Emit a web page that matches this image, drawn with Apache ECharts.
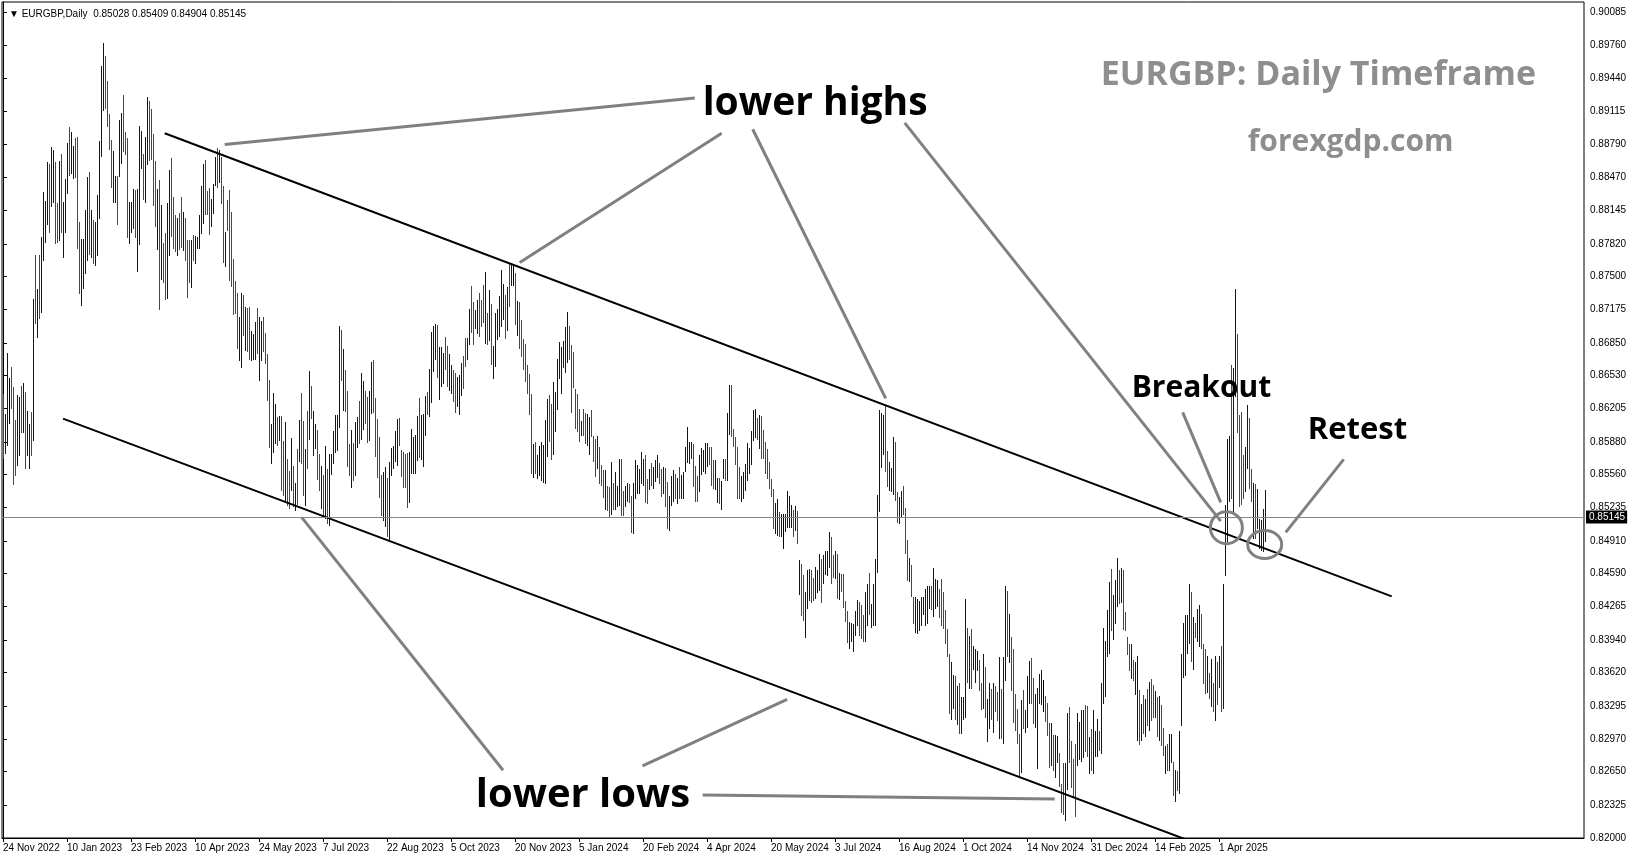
<!DOCTYPE html>
<html>
<head>
<meta charset="utf-8">
<script src="https://cdn.jsdelivr.net/npm/echarts@6/dist/echarts.min.js"></script>
<style>
html,body{margin:0;padding:0;background:#ffffff;}
#chart{width:1631px;height:861px;}
</style>
</head>
<body>
<div id="chart"></div>
<script>
// ---------- DATA ----------
const headerText = '\u25BC EURGBP,Daily  0.85028 0.85409 0.84904 0.85145';
const lastPrice = 0.85145;

const xLabels = ['24 Nov 2022','10 Jan 2023','23 Feb 2023','10 Apr 2023','24 May 2023','7 Jul 2023',
  '22 Aug 2023','5 Oct 2023','20 Nov 2023','5 Jan 2024','20 Feb 2024','4 Apr 2024','20 May 2024',
  '3 Jul 2024','16 Aug 2024','1 Oct 2024','14 Nov 2024','31 Dec 2024','14 Feb 2025','1 Apr 2025'];

const priceTicks = [0.82000,0.82325,0.82650,0.82970,0.83295,0.83620,0.83940,0.84265,0.84590,0.84910,
  0.85235,0.85560,0.85880,0.86205,0.86530,0.86850,0.87175,0.87500,0.87820,0.88145,0.88470,0.88790,
  0.89115,0.89440,0.89760,0.90085];

// daily bar highs (one per trading day, oldest first)
const highs = [
.8635,.8615,.8675,.8651,.8661,.8642,.8609,.8634,.8632,.8643,
.8646,.8637,.8618,.8605,.8617,.8728,.8771,.8738,.8771,.8789,
.8833,.8824,.8862,.8860,.8877,.8874,.8862,.8822,.8863,.8870,
.8823,.8845,.8881,.8896,.8891,.8878,.8886,.8887,.8803,.8787,
.8787,.8815,.8847,.8852,.8815,.8805,.8803,.8830,.8883,.8956,
.8979,.8966,.8941,.8909,.8884,.8873,.8848,.8848,.8903,.8910,
.8928,.8891,.8886,.8823,.8823,.8836,.8835,.8836,.8897,.8892,
.8870,.8887,.8926,.8922,.8914,.8890,.8863,.8836,.8844,.8820,
.8783,.8793,.8822,.8854,.8866,.8828,.8810,.8807,.8812,.8828,
.8813,.8807,.8786,.8786,.8786,.8791,.8790,.8789,.8810,.8839,
.8860,.8864,.8834,.8837,.8826,.8841,.8867,.8876,.8874,.8867,
.8839,.8794,.8825,.8835,.8813,.8767,.8746,.8734,.8710,.8734,
.8732,.8720,.8719,.8720,.8697,.8694,.8705,.8719,.8710,.8706,
.8710,.8695,.8674,.8649,.8605,.8636,.8625,.8612,.8613,.8613,
.8589,.8607,.8571,.8559,.8592,.8564,.8548,.8581,.8609,.8636,
.8608,.8581,.8618,.8657,.8643,.8618,.8605,.8600,.8576,.8564,
.8556,.8584,.8561,.8576,.8576,.8599,.8614,.8614,.8701,.8698,
.8679,.8658,.8638,.8586,.8600,.8587,.8607,.8612,.8628,.8655,
.8648,.8638,.8632,.8638,.8666,.8668,.8631,.8610,.8593,.8556,
.8558,.8563,.8553,.8568,.8582,.8584,
.8599,.8610,.8611,.8580,.8578,.8576,.8577,.8578,.8601,.8593,
.8595,.8613,.8631,.8614,.8615,.8633,.8637,.8659,.8696,.8701,
.8703,.8702,.8681,.8681,.8675,.8691,.8682,.8674,.8663,.8658,
.8655,.8652,.8653,.8665,.8672,.8690,.8690,.8718,.8741,.8725,
.8717,.8727,.8734,.8727,.8742,.8754,.8714,.8737,.8723,.8682,
.8714,.8718,.8731,.8756,.8743,.8732,.8740,.8762,.8763,.8762,
.8753,.8726,.8725,.8707,.8689,.8684,.8663,.8654,.8635,.8586,
.8588,.8575,.8584,.8588,.8585,.8609,.8630,.8634,.8625,.8647,
.8637,.8669,.8686,.8681,.8687,.8700,.8715,.8701,.8683,.8676,
.8640,.8635,.8620,.8608,.8620,.8616,.8615,.8612,.8619,.8594,
.8591,.8594,.8583,.8565,.8560,.8560,.8545,.8544,.8568,
.8548,.8558,.8545,.8571,.8571,.8540,.8545,.8548,.8547,.8535,
.8548,.8570,.8565,.8561,.8578,.8571,.8575,.8552,.8561,.8567,
.8563,.8570,.8575,.8567,.8561,.8563,.8562,.8549,.8535,.8555,
.8560,.8557,.8553,.8563,.8556,.8558,.8583,.8603,.8588,.8588,
.8586,.8564,.8555,.8575,.8582,.8580,.8587,.8587,.8583,.8583,
.8570,.8570,.8553,.8553,.8550,.8571,.8571,.8616,.8644,.8644,
.8601,.8593,.8583,.8563,.8555,.8558,.8566,.8587,.8582,.8599,
.8619,.8620,.8611,.8614,.8613,.8600,.8588,.8581,.8568,.8552,
.8542,.8528,.8532,.8519,.8517,.8517,.8517,.8540,.8535,.8526,
.8521,.8525,.8520,.8472,.8468,.8458,.8441,.8462,.8463,.8462,
.8455,.8465,.8462,.8478,.8473,.8477,.8481,
.8481,.8500,.8495,.8477,.8481,.8478,.8460,.8459,.8459,.8432,
.8422,.8412,.8411,.8410,.8422,.8433,.8431,.8428,.8418,.8441,
.8449,.8460,.8429,.8449,.8473,.8536,.8619,.8616,.8614,.8624,
.8579,.8568,.8562,.8593,.8588,.8539,.8534,.8540,.8545,.8523,
.8492,.8474,.8467,.8436,.8436,.8434,.8432,.8436,.8436,.8444,
.8447,.8447,.8447,.8464,.8454,.8453,.8444,.8454,.8441,.8423,
.8405,.8380,.8372,.8360,.8359,.8349,.8352,.8338,.8338,.8434,
.8406,.8398,.8405,.8388,.8385,.8383,.8374,.8352,.8380,.8367,
.8336,.8352,.8346,.8352,.8349,.8343,.8377,.8346,.8377,.8447,
.8442,
.8419,.8397,.8385,.8341,.8326,.8302,.8335,.8345,.8325,.8359,
.8373,.8376,.8357,.8341,.8347,.8361,.8365,.8355,.8339,.8332,
.8313,.8313,.8301,.8301,.8300,.8283,.8253,.8273,.8273,.8322,
.8328,.8295,.8277,.8292,.8322,.8314,.8325,.8325,.8330,.8329,
.8299,.8307,.8325,.8305,.8317,.8305,.8352,.8406,.8393,.8423,
.8451,.8463,.8438,.8453,.8474,.8462,.8464,.8462,.8421,.8397,
.8390,.8390,.8374,.8372,.8378,.8345,.8331,.8340,.8336,.8346,
.8353,.8356,.8350,.8344,.8338,.8339,.8330,.8308,.8290,.8292,
.8302,.8302,.8274,.8267,.8266,.8305,.8380,.8411,.8418,.8418,
.8449,
.8441,.8416,.8411,.8424,.8428,.8419,.8390,.8385,.8378,.8362,
.8375,.8352,.8378,.8372,.8378,.8388,.8449,.8526,.8591,.8594,
.8663,.8660,.8738,.8694,.8614,.8617,.8575,.8583,.8624,.8611,
.8561,.8548,.8547,.8542,.8512,.8511,.8522,.8541
];

// daily bar lows
const lows = [
.8571,.8576,.8584,.8605,.8620,.8546,.8555,.8564,.8574,.8597,
.8597,.8561,.8574,.8561,.8574,.8589,.8703,.8690,.8708,.8714,
.8765,.8783,.8800,.8793,.8818,.8822,.8782,.8783,.8785,.8793,
.8768,.8793,.8831,.8848,.8850,.8845,.8846,.8777,.8733,.8721,
.8738,.8752,.8765,.8771,.8768,.8762,.8760,.8770,.8806,.8867,
.8912,.8914,.8896,.8874,.8837,.8822,.8822,.8800,.8847,.8860,
.8872,.8869,.8788,.8782,.8793,.8796,.8788,.8754,.8781,.8855,
.8825,.8822,.8859,.8863,.8864,.8819,.8798,.8776,.8717,.8747,
.8744,.8727,.8728,.8770,.8789,.8777,.8774,.8770,.8776,.8778,
.8775,.8765,.8729,.8744,.8739,.8765,.8762,.8777,.8777,.8792,
.8801,.8810,.8810,.8791,.8798,.8811,.8839,.8837,.8842,.8821,
.8763,.8759,.8795,.8746,.8740,.8712,.8713,.8679,.8667,.8660,
.8692,.8677,.8676,.8668,.8667,.8668,.8668,.8674,.8648,.8667,
.8676,.8664,.8628,.8582,.8566,.8577,.8586,.8584,.8589,.8540,
.8535,.8528,.8525,.8522,.8540,.8524,.8520,.8526,.8568,.8566,
.8535,.8525,.8561,.8590,.8610,.8574,.8581,.8551,.8540,.8522,
.8515,.8512,.8508,.8506,.8556,.8566,.8577,.8579,.8602,.8648,
.8618,.8617,.8563,.8555,.8543,.8550,.8555,.8582,.8586,.8590,
.8600,.8605,.8587,.8589,.8615,.8616,.8573,.8553,.8533,.8515,
.8510,.8505,.8495,.8490,.8555,.8561,
.8568,.8564,.8584,.8554,.8543,.8543,.8523,.8528,.8557,.8557,
.8557,.8569,.8572,.8570,.8563,.8594,.8614,.8612,.8626,.8656,
.8668,.8651,.8629,.8642,.8645,.8658,.8642,.8638,.8635,.8627,
.8616,.8622,.8614,.8633,.8640,.8661,.8668,.8683,.8695,.8683,
.8699,.8694,.8691,.8700,.8704,.8684,.8683,.8687,.8663,.8650,
.8661,.8688,.8691,.8700,.8707,.8689,.8697,.8720,.8741,.8741,
.8702,.8692,.8679,.8671,.8658,.8647,.8635,.8614,.8557,.8553,
.8557,.8552,.8555,.8550,.8548,.8547,.8573,.8588,.8570,.8575,
.8598,.8619,.8650,.8635,.8660,.8655,.8665,.8668,.8616,.8641,
.8601,.8598,.8588,.8594,.8594,.8586,.8584,.8575,.8593,.8568,
.8554,.8561,.8547,.8545,.8533,.8521,.8520,.8513,.8516,
.8521,.8521,.8524,.8525,.8515,.8515,.8524,.8529,.8528,.8499,
.8498,.8532,.8537,.8537,.8547,.8545,.8528,.8527,.8541,.8545,
.8542,.8549,.8553,.8547,.8534,.8537,.8524,.8503,.8501,.8525,
.8529,.8532,.8527,.8532,.8532,.8532,.8558,.8567,.8566,.8571,
.8544,.8529,.8529,.8539,.8556,.8558,.8557,.8563,.8565,.8545,
.8542,.8541,.8528,.8527,.8521,.8552,.8550,.8550,.8595,.8593,
.8583,.8565,.8532,.8532,.8529,.8532,.8540,.8550,.8557,.8565,
.8589,.8592,.8590,.8581,.8571,.8571,.8557,.8552,.8542,.8534,
.8503,.8498,.8496,.8495,.8495,.8483,.8500,.8504,.8504,.8504,
.8495,.8501,.8488,.8438,.8417,.8413,.8396,.8424,.8432,.8430,
.8432,.8434,.8440,.8442,.8430,.8449,.8458,
.8457,.8464,.8449,.8455,.8454,.8434,.8433,.8441,.8425,.8412,
.8391,.8385,.8392,.8382,.8398,.8408,.8398,.8395,.8392,.8392,
.8408,.8418,.8406,.8408,.8408,.8460,.8519,.8562,.8575,.8558,
.8544,.8540,.8539,.8536,.8530,.8509,.8508,.8513,.8516,.8478,
.8452,.8451,.8436,.8410,.8401,.8400,.8403,.8408,.8418,.8408,
.8410,.8424,.8423,.8416,.8424,.8426,.8415,.8408,.8405,.8390,
.8377,.8321,.8316,.8326,.8316,.8311,.8302,.8302,.8316,.8318,
.8352,.8346,.8346,.8365,.8352,.8364,.8344,.8325,.8326,.8318,
.8294,.8307,.8316,.8303,.8323,.8315,.8297,.8297,.8292,.8354,
.8377,
.8371,.8344,.8313,.8305,.8292,.8259,.8264,.8307,.8303,.8308,
.8331,.8331,.8312,.8308,.8268,.8331,.8330,.8323,.8314,.8300,
.8269,.8271,.8266,.8259,.8273,.8250,.8224,.8223,.8217,.8247,
.8273,.8249,.8240,.8221,.8271,.8276,.8274,.8278,.8284,.8279,
.8263,.8266,.8263,.8279,.8279,.8285,.8282,.8331,.8338,.8377,
.8380,.8403,.8394,.8410,.8426,.8429,.8430,.8404,.8403,.8379,
.8364,.8356,.8354,.8340,.8295,.8291,.8295,.8302,.8299,.8310,
.8305,.8315,.8318,.8318,.8299,.8295,.8290,.8280,.8263,.8266,
.8266,.8273,.8241,.8235,.8246,.8243,.8310,.8357,.8359,.8380,
.8390,
.8372,.8365,.8396,.8392,.8387,.8385,.8351,.8341,.8342,.8336,
.8328,.8323,.8315,.8330,.8347,.8323,.8326,.8457,.8488,.8529,
.8532,.8516,.8632,.8597,.8524,.8526,.8532,.8539,.8561,.8542,
.8529,.8493,.8493,.8503,.8483,.8481,.8480,.8490
];

// bar direction: u = close above open (blue), d = close below open (red), n = unchanged (black)
const dirs =
 "duunddduud"+"uduudududu"+"uuuduuddud"+"uuuduudddu"+"uuududuuuu"+"udddduuduu"+"ddduuuduuu"+
 "duuddddudu"+"dduudddudd"+"uddduduuuu"+"uddduuudud"+"dudddddduu"+"dudduuuduu"+"dddduuudud"+
 "duddududud"+"dududuuddu"+"duduuuuuud"+"uddduduudu"+"udduuddddd"+"uuduuu"+
 "uuddddduuu"+"uuduuuduuu"+"uduuudduud"+"duuudduudd"+"uudddududu"+"uuuuududun"+"dudddddddu"+
 "dunuuuuddu"+"uuuuuuuddd"+"dddudduudd"+"duddduddu"+
 "duuudduudd"+"uuuuuuddud"+"uuuddudduu"+"ududuuuuuu"+"ddduuuuudd"+"duuduuduud"+"dddduuuuuu"+
 "uududddddd"+"duudunuuuu"+"dududduuud"+"duuuduu"+
 "uuddududdd"+"duuuuudddu"+"uduuuuuuud"+"duuudduudd"+"dudduuuuuu"+"uuduuudddd"+"dduududuuu"+
 "duduuuddud"+"uududduduu"+"d"+
 "uddddduduu"+"udduuuundd"+"duduuddduu"+"dddduuuudd"+"uduuuduuuu"+"uduuududdd"+"duduududud"+
 "uddududdud"+"uududuuuuu"+"u"+
 "duduudddud"+"udududuuuu"+"duudddduud"+"duduuuuu";

// trend channel (bar index, price)
const upperChannel = [[80.85, 0.88903], [694.35, 0.84366]];
const lowerChannel = [[30, 0.86107], [600, 0.81923]];

// grey pointer lines (bar index, price)
const pointerLines = [
  [[345.85, 0.89248], [110.85, 0.88792]],
  [[359.35, 0.88903], [258.35, 0.87636]],
  [[374.85, 0.88942], [441.35, 0.86306]],
  [[450.85, 0.89004], [608.85, 0.85104]],
  [[589.85, 0.86169], [608.85, 0.85287]],
  [[670.35, 0.85708], [641.35, 0.84993]],
  [[250.05, 0.82664], [149.35, 0.85140]],
  [[319.75, 0.82706], [392.05, 0.83357]],
  [[349.85, 0.82420], [525.85, 0.82381]]
];

// circle centres (bar index, price)
const breakoutCircle = [611.7, 0.85039];
const retestCircle = [630.85, 0.84875];

// annotation texts and their left/middle anchors (bar index, price)
const notes = [
  {text: 'lower highs', at: [349.85, 0.89190]},
  {text: 'lower lows', at: [236.35, 0.82415]},
  {text: 'Breakout', at: [564.35, 0.86400]},
  {text: 'Retest', at: [652.35, 0.85990]},
  {text: 'EURGBP: Daily Timeframe', at: [548.85, 0.89472]},
  {text: 'forexgdp.com', at: [622.35, 0.88815]}
];

// ---------- CHART ----------
const SLOT_COUNT = 791;
const LABEL_STEP = 32;
const UP = '#0000cc', DOWN = '#ee0000', DOJI = '#000000';
const AXIS_FONT = '"Liberation Sans", Arial, sans-serif';
const NOTE_FONT = '"Open Sans", "Noto Sans", sans-serif';
const noteStyle = {
  'lower highs': {size: 39, color: '#000000'},
  'lower lows': {size: 40, color: '#000000'},
  'Breakout': {size: 30, color: '#000000'},
  'Retest': {size: 31, color: '#000000'},
  'EURGBP: Daily Timeframe': {size: 34, color: '#8e8e8e'},
  'forexgdp.com': {size: 30, color: '#8e8e8e'}
};

const slots = Array.from({length: SLOT_COUNT}, (_, i) => String(i));
const n = Math.min(highs.length, lows.length, dirs.length);
const barData = [];
for (let i = 0; i < n; i++) barData.push([i, lows[i], highs[i]]);

function showDate(index) {
  return index % LABEL_STEP === 0 && index / LABEL_STEP < xLabels.length;
}

function renderBar(params, api) {
  const i = api.value(0);
  const top = api.coord([i, api.value(2)]);
  const bot = api.coord([i, api.value(1)]);
  const d = dirs[params.dataIndex];
  const color = d === 'u' ? UP : (d === 'd' ? DOWN : DOJI);
  const x = Math.round(top[0]);
  const y1 = Math.round(top[1]);
  const y2 = Math.round(bot[1]);
  return {
    type: 'rect',
    shape: {x: x, y: y1, width: 1, height: Math.max(1, y2 - y1)},
    style: {fill: color}
  };
}

function lineSeries(points, color, width) {
  return {
    type: 'line', xAxisIndex: 1, yAxisIndex: 0, data: points,
    symbol: 'none', silent: true, animation: false, clip: true, z: 4,
    lineStyle: {color: color, width: width}
  };
}

const series = [
  {
    type: 'custom', xAxisIndex: 0, yAxisIndex: 0, data: barData,
    renderItem: renderBar, encode: {x: 0, y: [1, 2]}, silent: true, animation: false, clip: true, z: 2
  },
  Object.assign(lineSeries(upperChannel, '#000000', 2), {
    markLine: {
      silent: true, animation: false, symbol: ['none', 'none'], precision: 5,
      data: [{yAxis: lastPrice}],
      lineStyle: {color: '#7b8899', width: 1, type: 'solid'},
      label: {
        show: true, position: 'end', formatter: lastPrice.toFixed(5),
        color: '#ffffff', backgroundColor: '#000000', padding: [2, 2, 1, 3],
        fontSize: 10, fontFamily: AXIS_FONT, distance: 2
      }
    }
  }),
  lineSeries(lowerChannel, '#000000', 2)
];
pointerLines.forEach(p => series.push(lineSeries(p, '#808080', 3)));

const option = {
  animation: false,
  backgroundColor: '#ffffff',
  title: {
    text: headerText, left: 4, top: 4,
    textStyle: {fontSize: 10, fontWeight: 'normal', color: '#000000', fontFamily: AXIS_FONT}
  },
  grid: {
    left: 2, right: 47, top: 2, bottom: 23, show: true,
    borderColor: '#000000', borderWidth: 1, backgroundColor: 'transparent',
    containLabel: false, outerBoundsMode: 'none'
  },
  xAxis: [
    {
      type: 'category', data: slots, boundaryGap: true,
      axisLine: {show: true, lineStyle: {color: '#000000', width: 1}},
      axisTick: {show: true, interval: (i) => showDate(i), alignWithLabel: true, length: 4, lineStyle: {color: '#000000'}},
      axisLabel: {
        interval: (i) => showDate(i),
        formatter: (v, i) => xLabels[i / LABEL_STEP] || '',
        align: 'left', color: '#000000', fontSize: 10, fontFamily: AXIS_FONT, margin: 5
      },
      splitLine: {show: false}
    },
    {type: 'value', min: -0.5, max: SLOT_COUNT - 0.5, show: false}
  ],
  yAxis: {
    type: 'value', position: 'right', min: 0.82, max: 0.90188,
    axisLine: {show: true, lineStyle: {color: '#000000', width: 1}},
    axisTick: {show: true, length: 4, customValues: priceTicks, lineStyle: {color: '#000000'}},
    axisLabel: {
      customValues: priceTicks, formatter: (v) => Number(v).toFixed(5),
      color: '#000000', fontSize: 10, fontFamily: AXIS_FONT, margin: 6
    },
    splitLine: {show: false}
  },
  series: series
};

const chart = echarts.init(document.getElementById('chart'), null, {renderer: 'canvas'});
chart.setOption(option);

const finder = {xAxisIndex: 1, yAxisIndex: 0};
const toPx = (p) => chart.convertToPixel(finder, p);
const graphics = [];
[breakoutCircle, retestCircle].forEach((c, k) => {
  const p = toPx(c);
  graphics.push({
    type: 'ellipse', silent: true, z: 10,
    shape: {cx: p[0], cy: p[1], rx: k === 0 ? 16 : 17, ry: k === 0 ? 16 : 14},
    style: {fill: 'none', stroke: '#808080', lineWidth: 3}
  });
});
notes.forEach(nt => {
  const p = toPx(nt.at);
  const st = noteStyle[nt.text];
  graphics.push({
    type: 'text', silent: true, z: 10, x: p[0], y: p[1],
    style: {
      text: nt.text, fill: st.color,
      font: 'bold ' + st.size + 'px ' + NOTE_FONT,
      textAlign: 'left', textVerticalAlign: 'middle',
      align: 'left', verticalAlign: 'middle'
    }
  });
});
chart.setOption({graphic: graphics});
</script>
</body>
</html>
